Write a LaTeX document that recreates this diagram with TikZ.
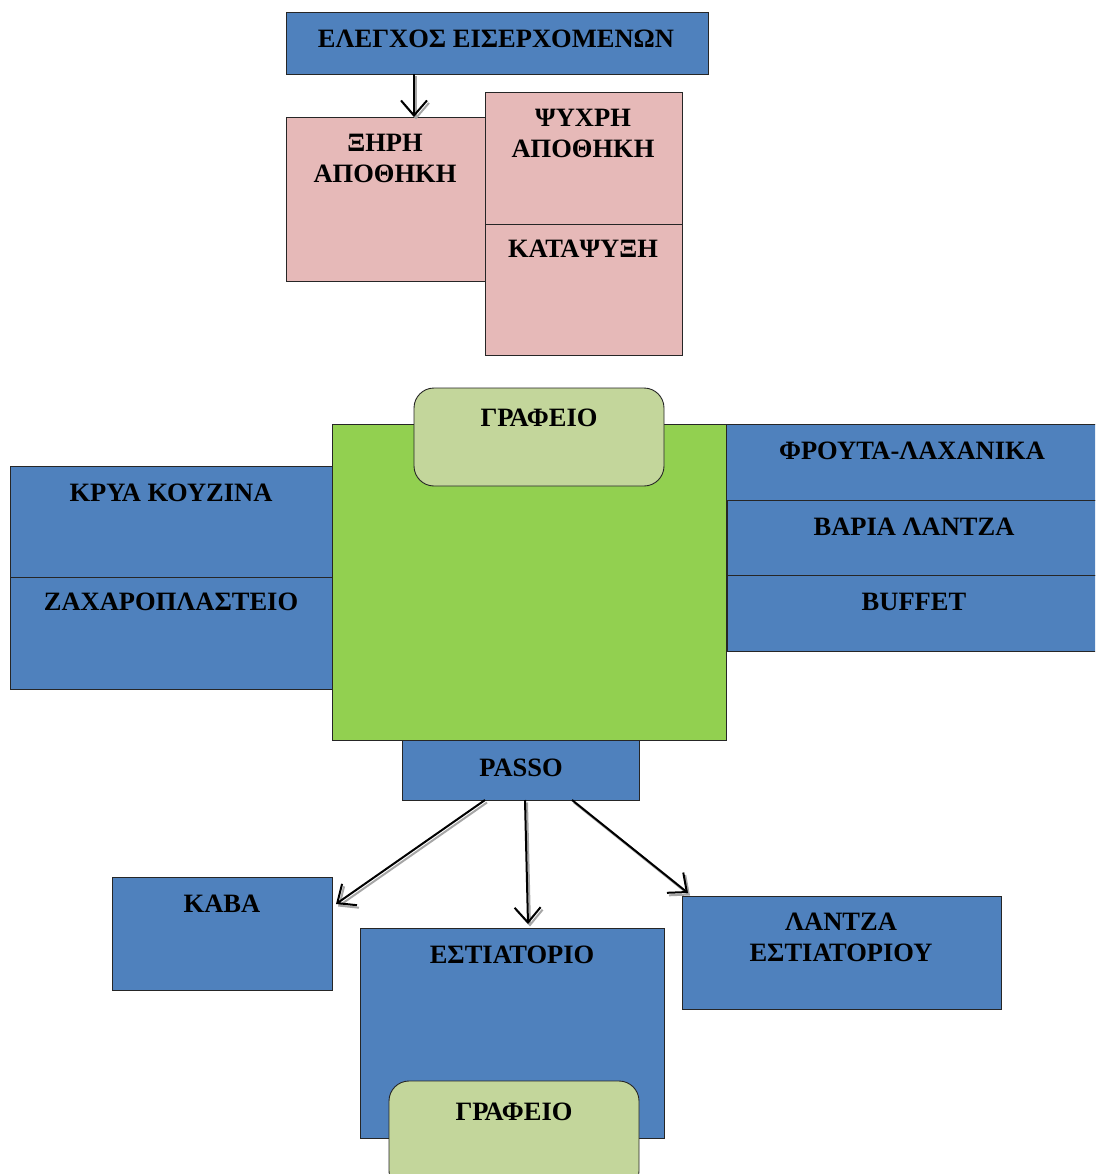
\documentclass[tikz,border=0pt]{standalone}
\usepackage{fontspec}
\setmainfont{Liberation Serif}
\usetikzlibrary{arrows.meta}
\definecolor{bblue}{HTML}{4F81BD}
\definecolor{ppink}{HTML}{E6B9B8}
\definecolor{ggreen}{HTML}{92D050}
\definecolor{lgreen}{HTML}{C3D69B}
\begin{document}
\begin{tikzpicture}[x=1pt,y=-1pt,
  box/.style={draw=black!85, line width=0.9pt, anchor=north west, inner sep=0pt, outer sep=0pt},
  bluebox/.style={box, fill=bblue},
  pinkbox/.style={box, fill=ppink},
  greenbox/.style={box, fill=ggreen},
  officebox/.style={box, fill=lgreen, rounded corners=20pt},
  lbl/.style={font=\fontsize{26.5}{31}\selectfont\bfseries, align=center, inner sep=0pt},
  arr/.style={draw=black, line width=2pt, -{Straight Barb[length=15pt,width=26pt,line width=2pt]}},
  shadowarr/.style={draw=black!35, line width=2pt, -{Straight Barb[length=15pt,width=26pt,line width=2pt]}, transform canvas={xshift=2pt,yshift=-2.5pt}}
]
\useasboundingbox (0,0) rectangle (1095,1174);
\clip (0,0) rectangle (1095,1174);

% top
\node[bluebox, minimum width=422pt, minimum height=62pt] (ctrl) at (286,12) {};
\node[lbl] (ctrlt) at (496,39) {ΕΛΕΓΧΟΣ ΕΙΣΕΡΧΟΜΕΝΩΝ};
\node[pinkbox, minimum width=199pt, minimum height=164pt] (xiri) at (286,117) {};
\node[lbl] (xirit) at (385,158.5) {ΞΗΡΗ\\ΑΠΟΘΗΚΗ};
\node[pinkbox, minimum width=197pt, minimum height=132pt] (psy) at (485,92) {};
\node[lbl] (psyt) at (583,133.5) {ΨΥΧΡΗ\\ΑΠΟΘΗΚΗ};
\node[pinkbox, minimum width=197pt, minimum height=131pt] (kat) at (485,224) {};
\node[lbl] (katt) at (583,249) {ΚΑΤΑΨΥΞΗ};

% kitchen
\node[greenbox, minimum width=394pt, minimum height=316pt] (kitchen) at (332,424) {};
\node[officebox, minimum width=250pt, minimum height=98pt] (graf1) at (414,388) {};
\node[lbl] (graf1t) at (539,418) {ΓΡΑΦΕΙΟ};
\node[bluebox, minimum width=322pt, minimum height=111pt] (krya) at (10,466) {};
\node[lbl] (kryat) at (171,493) {ΚΡΥΑ ΚΟΥΖΙΝΑ};
\node[bluebox, minimum width=322pt, minimum height=112pt] (zax) at (10,577) {};
\node[lbl] (zaxt) at (171,602) {ΖΑΧΑΡΟΠΛΑΣΤΕΙΟ};
\node[bluebox, minimum width=380pt, minimum height=76pt] (frouta) at (726,424) {};
\node[lbl] (froutat) at (912,451) {ΦΡΟΥΤΑ-ΛΑΧΑΝΙΚΑ};
\node[bluebox, minimum width=379pt, minimum height=75pt] (varia) at (727,500) {};
\node[lbl] (variat) at (914,527) {ΒΑΡΙΑ ΛΑΝΤΖΑ};
\node[bluebox, minimum width=379pt, minimum height=76pt] (buffet) at (727,575) {};
\node[lbl] (buffett) at (914,602) {BUFFET};
\node[bluebox, minimum width=237pt, minimum height=60pt] (passo) at (402,740) {};
\node[lbl] (passot) at (521,768) {PASSO};

% bottom
\node[bluebox, minimum width=220pt, minimum height=113pt] (kava) at (112,877) {};
\node[lbl] (kavat) at (222,904) {ΚΑΒΑ};
\node[bluebox, minimum width=304pt, minimum height=210pt] (estiat) at (360,928) {};
\node[lbl] (estiatt) at (512,955) {ΕΣΤΙΑΤΟΡΙΟ};
\node[officebox, minimum width=250pt, minimum height=110pt] (graf2) at (389,1081) {};
\node[lbl] (graf2t) at (514,1112) {ΓΡΑΦΕΙΟ};
\node[bluebox, minimum width=319pt, minimum height=113pt] (lantza) at (682,896) {};
\node[lbl] (lantzat) at (841,937.5) {ΛΑΝΤΖΑ\\ΕΣΤΙΑΤΟΡΙΟΥ};

% arrows: shadows
\draw[shadowarr] ([xshift=128pt]ctrl.south west) -- ([xshift=128pt]xiri.north west);
\draw[shadowarr] ([xshift=83pt]passo.south west) -- ([xshift=4pt,yshift=-27pt]kava.north east);
\draw[shadowarr] ([xshift=123pt]passo.south west) -- ([xshift=168pt,yshift=4pt]estiat.north west);
\draw[shadowarr] ([xshift=170pt]passo.south west) -- ([xshift=6pt,yshift=3pt]lantza.north west);
% arrows
\draw[arr] ([xshift=128pt]ctrl.south west) -- ([xshift=128pt]xiri.north west);
\draw[arr] ([xshift=83pt]passo.south west) -- ([xshift=4pt,yshift=-27pt]kava.north east);
\draw[arr] ([xshift=123pt]passo.south west) -- ([xshift=168pt,yshift=4pt]estiat.north west);
\draw[arr] ([xshift=170pt]passo.south west) -- ([xshift=6pt,yshift=3pt]lantza.north west);
\end{tikzpicture}
\end{document}
